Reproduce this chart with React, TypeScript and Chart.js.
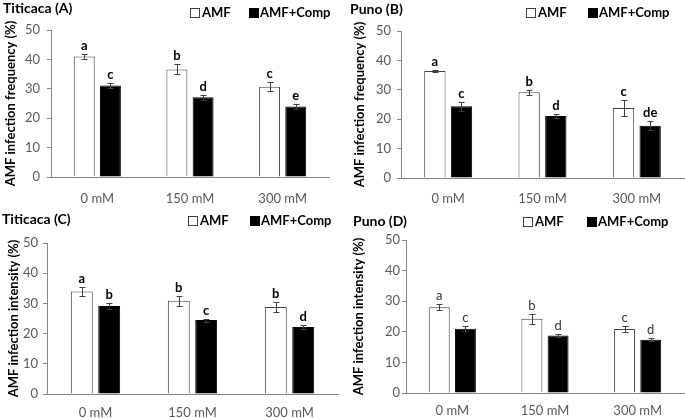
import React, { useEffect, useRef } from 'react';
import { Chart, registerables } from 'chart.js';

Chart.register(...registerables);

const categories = ['0 mM', '150 mM', '300 mM'];
const seriesNames = ['AMF', 'AMF+Comp'];
const yMax = 50;
const yStep = 10;

// Panel A – Titicaca, infection frequency
const titiFreqAmf = [41.0, 36.6, 30.7];
const titiFreqAmfErr = [1.0, 1.7, 1.6];
const titiFreqComp = [31.1, 27.1, 24.0];
const titiFreqCompErr = [0.8, 0.8, 0.8];
const titiFreqAmfLetters = ['a', 'b', 'c'];
const titiFreqCompLetters = ['c', 'd', 'e'];

// Panel B – Puno, infection frequency
const punoFreqAmf = [36.4, 29.2, 23.8];
const punoFreqAmfErr = [0.5, 0.9, 2.6];
const punoFreqComp = [24.4, 21.1, 17.8];
const punoFreqCompErr = [1.5, 0.8, 1.5];
const punoFreqAmfLetters = ['a', 'b', 'c'];
const punoFreqCompLetters = ['c', 'd', 'de'];

// Panel C – Titicaca, infection intensity
const titiIntAmf = [33.9, 30.9, 28.8];
const titiIntAmfErr = [1.6, 1.6, 1.6];
const titiIntComp = [29.1, 24.5, 22.2];
const titiIntCompErr = [1.1, 0.5, 0.8];
const titiIntAmfLetters = ['a', 'b', 'b'];
const titiIntCompLetters = ['b', 'c', 'd'];

// Panel D – Puno, infection intensity
const punoIntAmf = [28.0, 24.3, 20.9];
const punoIntAmfErr = [1.0, 1.6, 1.1];
const punoIntComp = [21.0, 18.8, 17.4];
const punoIntCompErr = [0.8, 0.5, 0.55];
const punoIntAmfLetters = ['a', 'b', 'c'];
const punoIntCompLetters = ['c', 'd', 'd'];

const FONT = 'Lato, "Open Sans", sans-serif';
const AXIS_GRAY = '#868686';
const TICK_GRAY = '#595959';

type PanelCfg = {
  x: number; y: number; w: number; h: number;
  title: string; yTitle: string;
  amf: number[]; amfErr: number[]; comp: number[]; compErr: number[];
  amfLetters: string[]; compLetters: string[]; boldLetters: boolean;
  yWidth: number; padTop: number; xHeight: number; padRight: number;
  yTitlePad: number; yTickPad: number; xTickPad: number;
  titleX: number; titleY: number; legendX: number; legendY: number; legendGap: number;
};

const panels: PanelCfg[] = [
  {
    x: 0, y: 0, w: 342, h: 209, title: 'Titicaca (A)', yTitle: 'AMF infection frequency (%)',
    amf: titiFreqAmf, amfErr: titiFreqAmfErr, comp: titiFreqComp, compErr: titiFreqCompErr,
    amfLetters: titiFreqAmfLetters, compLetters: titiFreqCompLetters, boldLetters: true,
    yWidth: 51, padTop: 30, xHeight: 32, padRight: 13, yTitlePad: 3, yTickPad: 7, xTickPad: 14,
    titleX: 3, titleY: 8, legendX: 190, legendY: 12.5, legendGap: 59,
  },
  {
    x: 342, y: 0, w: 343, h: 209, title: 'Puno (B)', yTitle: 'AMF infection frequency (%)',
    amf: punoFreqAmf, amfErr: punoFreqAmfErr, comp: punoFreqComp, compErr: punoFreqCompErr,
    amfLetters: punoFreqAmfLetters, compLetters: punoFreqCompLetters, boldLetters: true,
    yWidth: 59, padTop: 31, xHeight: 31, padRight: 1, yTitlePad: 10, yTickPad: 6, xTickPad: 13,
    titleX: 8, titleY: 9, legendX: 184, legendY: 13, legendGap: 62,
  },
  {
    x: 0, y: 209, w: 342, h: 209, title: 'Titicaca (C)', yTitle: 'AMF infection intensity (%)',
    amf: titiIntAmf, amfErr: titiIntAmfErr, comp: titiIntComp, compErr: titiIntCompErr,
    amfLetters: titiIntAmfLetters, compLetters: titiIntCompLetters, boldLetters: true,
    yWidth: 47, padTop: 34, xHeight: 24, padRight: 4, yTitlePad: 6, yTickPad: 5, xTickPad: 11,
    titleX: 2, titleY: 10, legendX: 188, legendY: 11.7, legendGap: 62,
  },
  {
    x: 342, y: 209, w: 343, h: 209, title: 'Puno (D)', yTitle: 'AMF infection intensity (%)',
    amf: punoIntAmf, amfErr: punoIntAmfErr, comp: punoIntComp, compErr: punoIntCompErr,
    amfLetters: punoIntAmfLetters, compLetters: punoIntCompLetters, boldLetters: false,
    yWidth: 64, padTop: 31, xHeight: 25, padRight: 1, yTitlePad: 9, yTickPad: 2, xTickPad: 10,
    titleX: 11, titleY: 12, legendX: 181, legendY: 12.7, legendGap: 64,
  },
];

function makeAnnotate(p: PanelCfg) {
  return {
    id: 'annotate',
    afterDatasetsDraw(chart: any) {
      const ctx = chart.ctx as CanvasRenderingContext2D;
      const yScale = chart.scales.y;
      ctx.save();
      [0, 1].forEach((di) => {
        const meta = chart.getDatasetMeta(di);
        const vals = di === 0 ? p.amf : p.comp;
        const errs = di === 0 ? p.amfErr : p.compErr;
        const letters = di === 0 ? p.amfLetters : p.compLetters;
        meta.data.forEach((bar: any, j: number) => {
          const x = Math.round(bar.x) + 0.5;
          const yTop = Math.round(yScale.getPixelForValue(vals[j] + errs[j])) + 0.5;
          const yBot = Math.round(yScale.getPixelForValue(vals[j] - errs[j])) + 0.5;
          ctx.strokeStyle = '#404040';
          ctx.lineWidth = 1;
          ctx.beginPath();
          ctx.moveTo(x, yTop); ctx.lineTo(x, yBot);
          ctx.moveTo(x - 3, yTop); ctx.lineTo(x + 3, yTop);
          ctx.moveTo(x - 3, yBot); ctx.lineTo(x + 3, yBot);
          ctx.stroke();
          ctx.fillStyle = p.boldLetters ? '#000' : '#333';
          ctx.font = `${p.boldLetters ? 'bold ' : ''}13px ${FONT}`;
          ctx.textAlign = 'center';
          ctx.textBaseline = 'alphabetic';
          ctx.fillText(letters[j], bar.x, yTop - 5);
        });
      });
      ctx.restore();
    },
    afterDraw(chart: any) {
      const ctx = chart.ctx as CanvasRenderingContext2D;
      ctx.save();
      // panel title
      ctx.fillStyle = '#000';
      ctx.font = `bold 14px ${FONT}`;
      ctx.textAlign = 'left';
      ctx.textBaseline = 'middle';
      ctx.fillText(p.title, p.titleX, p.titleY);
      // legend
      ctx.font = `bold 13px ${FONT}`;
      const box = 10;
      const bx1 = p.legendX;
      const by = Math.round(p.legendY - box / 2);
      ctx.fillStyle = '#fff';
      ctx.fillRect(bx1, by, box, box);
      ctx.strokeStyle = '#404040';
      ctx.lineWidth = 1;
      ctx.strokeRect(bx1 + 0.5, by + 0.5, box - 1, box - 1);
      ctx.fillStyle = '#000';
      ctx.fillText(seriesNames[0], bx1 + box + 2, p.legendY);
      const bx2 = bx1 + p.legendGap;
      ctx.fillRect(bx2, by, box, box);
      ctx.fillText(seriesNames[1], bx2 + box + 1, p.legendY);
      ctx.restore();
    },
  };
}

function Panel({ cfg }: { cfg: PanelCfg }) {
  const ref = useRef<HTMLCanvasElement>(null);
  useEffect(() => {
    if (!ref.current) return;
    const chart = new Chart(ref.current, {
      type: 'bar',
      data: {
        labels: categories,
        datasets: [
          {
            label: seriesNames[0], data: cfg.amf, backgroundColor: '#ffffff',
            borderColor: '#404040', borderWidth: 1,
            barPercentage: 0.8, categoryPercentage: 0.565,
          },
          {
            label: seriesNames[1], data: cfg.comp, backgroundColor: '#000000',
            borderColor: '#000000', borderWidth: 1,
            barPercentage: 0.8, categoryPercentage: 0.565,
          },
        ],
      },
      options: {
        responsive: false,
        animation: false,
        devicePixelRatio: 1,
        layout: { padding: { top: cfg.padTop, right: cfg.padRight, left: 0, bottom: 0 } },
        plugins: { legend: { display: false }, tooltip: { enabled: false }, title: { display: false } },
        scales: {
          x: {
            grid: { display: false, drawTicks: false },
            border: { display: true, color: AXIS_GRAY, width: 1 },
            ticks: { color: TICK_GRAY, font: { family: FONT, size: 13 }, padding: cfg.xTickPad, maxRotation: 0 },
            afterFit: (s: any) => { s.height = cfg.xHeight; },
          },
          y: {
            min: 0, max: yMax,
            grid: { drawOnChartArea: false, drawTicks: true, tickLength: 4, color: AXIS_GRAY },
            border: { display: true, color: AXIS_GRAY, width: 1 },
            ticks: { stepSize: yStep, color: TICK_GRAY, font: { family: FONT, size: 13 }, padding: cfg.yTickPad },
            title: {
              display: true, text: cfg.yTitle, color: '#000',
              font: { family: FONT, size: 13, weight: 'bold' },
              padding: { top: cfg.yTitlePad, bottom: 0 },
            },
            afterFit: (s: any) => { s.width = cfg.yWidth; },
          },
        },
      } as any,
      plugins: [makeAnnotate(cfg)],
    });
    return () => chart.destroy();
  }, [cfg]);
  return (
    <canvas
      ref={ref}
      width={cfg.w}
      height={cfg.h}
      style={{ position: 'absolute', left: cfg.x, top: cfg.y, width: cfg.w, height: cfg.h }}
    />
  );
}

export default function App() {
  return (
    <div style={{ position: 'fixed', left: 0, top: 0, width: 685, height: 418, background: '#fff', overflow: 'hidden' }}>
      {panels.map((p) => <Panel key={p.title} cfg={p} />)}
    </div>
  );
}
